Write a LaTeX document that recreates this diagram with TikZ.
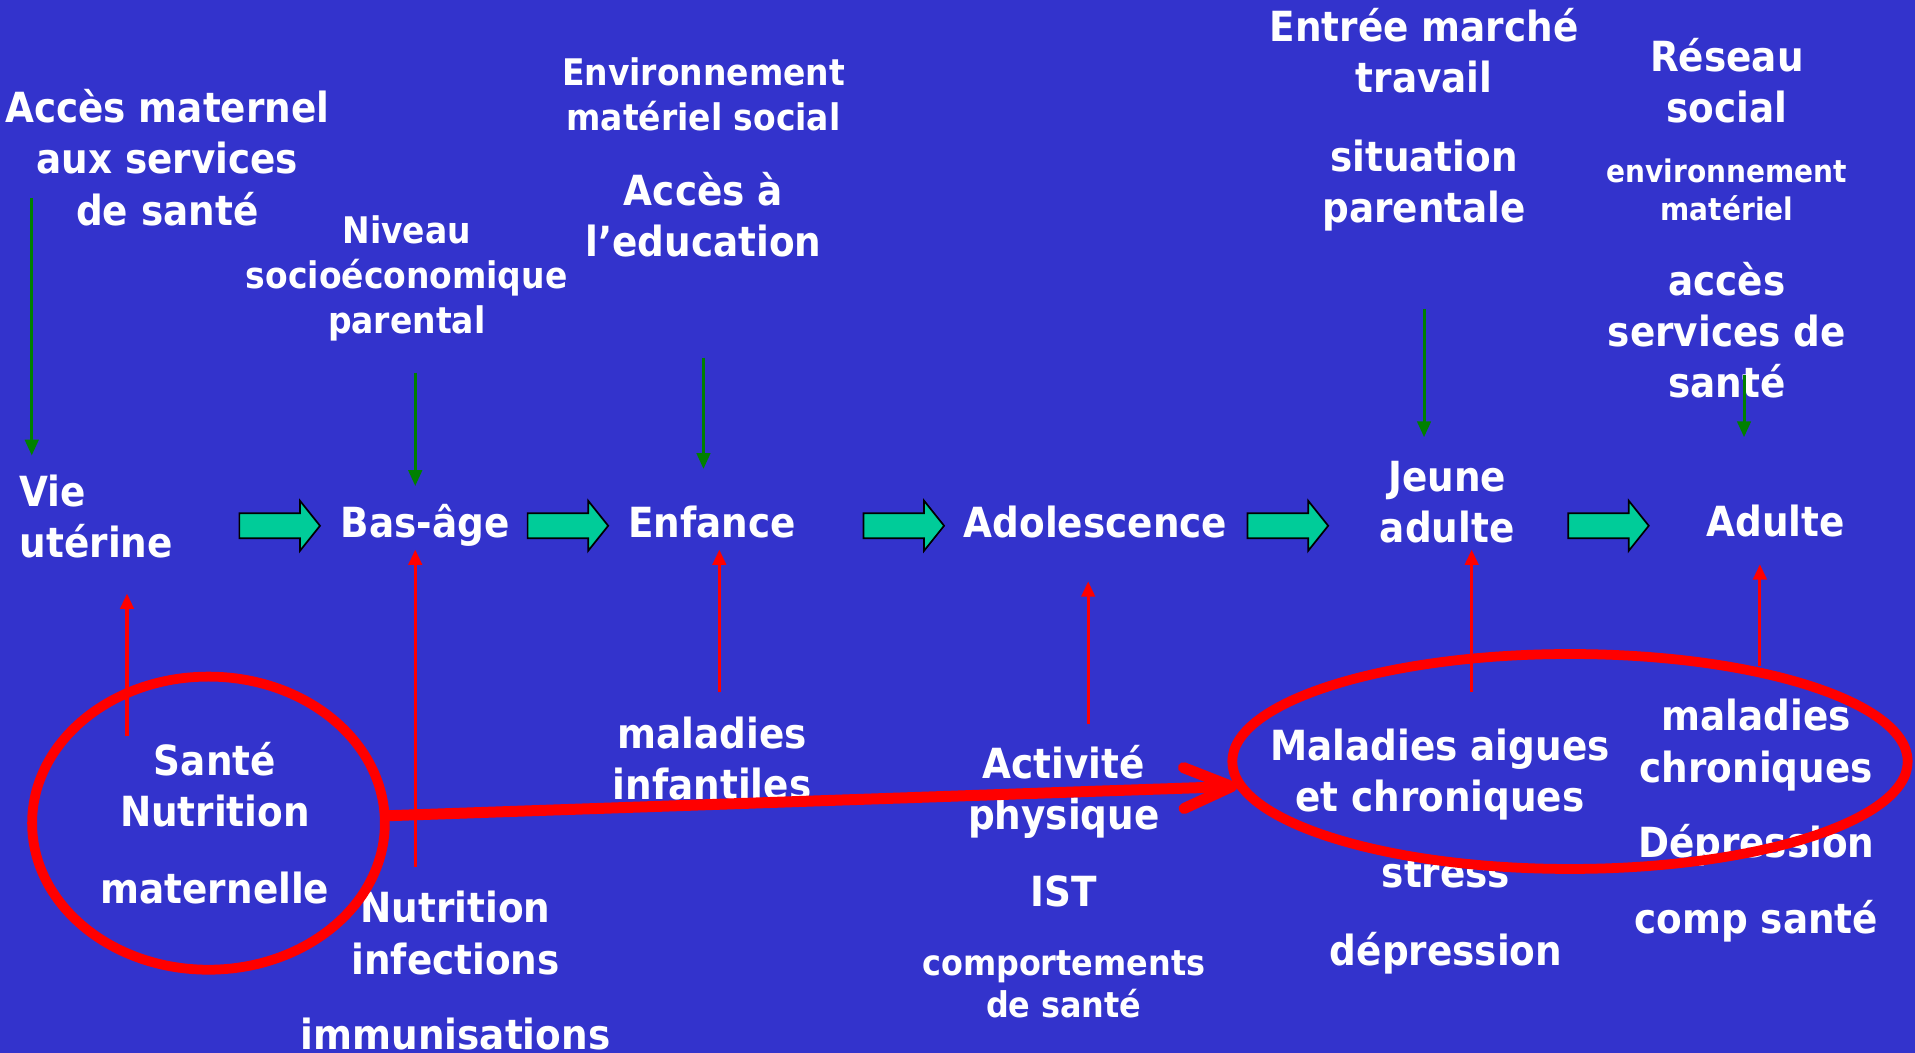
\documentclass[tikz,border=0pt]{standalone}
\usepackage{fontspec}
\newfontfamily\tfont{DejaVu Sans Condensed Bold}
\usetikzlibrary{arrows.meta,calc}
\definecolor{bgblue}{RGB}{51,51,204}
\definecolor{blockgreen}{RGB}{0,204,153}
\definecolor{dgreen}{RGB}{0,128,0}
\definecolor{rred}{RGB}{255,0,0}
\tikzset{
  lbl/.style={text=white, align=center, inner sep=0pt, font=\tfont\fontsize{34}{42}\selectfont},
  lblm/.style={lbl, font=\tfont\fontsize{30}{37}\selectfont},
  lblc/.style={lbl, font=\tfont\fontsize{29}{35}\selectfont},
  lbls/.style={lbl, font=\tfont\fontsize{25.5}{31}\selectfont},
  garrow/.style={draw=dgreen, line width=2.5pt, -{Triangle[length=13pt,width=11pt]}},
  rarrow/.style={draw=rred, line width=2.5pt, -{Triangle[length=12.5pt,width=11pt]}},
  ring/.style={draw=rred, line width=8pt},
  bigarrow/.style={draw=rred, line width=9pt, line cap=round, line join=round},
  blockarrow/.pic={\draw[line width=1.4pt, fill=blockgreen, line join=miter]
    (0,-10.25) -- (49.6,-10.25) -- (49.6,-20.5) -- (66,0) -- (49.6,20.5) -- (49.6,10.25) -- (0,10.25) -- cycle;}
}
\begin{document}
\begin{tikzpicture}[x=1pt,y=-1pt]
\fill[bgblue] (0,0) rectangle (1568,862);
\useasboundingbox (0,0) rectangle (1568,862);

% stages
\node[lbl, anchor=west, align=left] (vie) at (16,423) {Vie\\utérine};
\node[lbl, anchor=base] (basage) at (348,440) {Bas-âge};
\node[lbl, anchor=base] (enfance) at (583,440) {Enfance};
\node[lbl, anchor=base] (ado) at (897,440) {Adolescence};
\node[lbl] (jeune) at (1185,411) {Jeune\\adulte};
\node[lbl, anchor=base] (adulte) at (1454,439) {Adulte};

% block arrows between stages
\pic (ba1) at (196,430.5) {blockarrow};
\pic (ba2) at (432,430.5) {blockarrow};
\pic (ba3) at (707,430.5) {blockarrow};
\pic (ba4) at (1021.5,430.5) {blockarrow};
\pic (ba5) at (1284,430.5) {blockarrow};

% top determinants
\node[lbl] (acces) at (137,129) {Accès maternel\\aux services\\de santé};
\node[lblm] (niveau) at (333,228) {Niveau\\socioéconomique\\parental};
\node[lblm] (environ) at (576,77.5) {Environnement\\matériel social};
\node[lbl] (accesedu) at (576,176) {Accès à\\l’education};
\node[lbl] (entree) at (1166,98) {Entrée marché\\travail\\[22pt]situation\\parentale};
\node[lbl] (reseau) at (1414,66) {Réseau\\social};
\node[lbls] (envmat) at (1414,155.5) {environnement\\matériel};
\node[lbl] (accesserv) at (1414,270.5) {accès\\services de\\santé};

% bottom determinants
\node[lbl] (santenut) at (176,674) {Santé\\Nutrition\\[21pt]maternelle};
\node[lbl] (nutinf) at (373,795) {Nutrition\\infections\\[20pt]immunisations};
\node[lbl] (malinf) at (583,621) {maladies\\infantiles};
\node[lbl] (activite) at (871,676.5) {Activité\\physique\\[21pt]IST};
\node[lblc] (comport) at (871,806) {comportements\\de santé};
\node[lbl] (maladies) at (1179,634) {Maladies aigues\\et chroniques};
\node[lbl] (stress) at (1184,750) {stress\\[22pt]dépression};
\node[lbl] (malchron) at (1438,672) {maladies\\chroniques\\[20pt]Dépression\\[20pt]comp santé};

% green arrows
\coordinate (g1s) at (26,162);   \coordinate (g1e) at (26,373);
\coordinate (g2s) at (340,305);  \coordinate (g2e) at (340,398);
\coordinate (g3s) at (576,293);  \coordinate (g3e) at (576,384);
\coordinate (g4s) at (1166,253); \coordinate (g4e) at (1166,358);
\coordinate (g5s) at (1428,307); \coordinate (g5e) at (1428,358);
\draw[garrow] (g1s) -- (g1e);
\draw[garrow] (g2s) -- (g2e);
\draw[garrow] (g3s) -- (g3e);
\draw[garrow] (g4s) -- (g4e);
\draw[garrow] (g5s) -- (g5e);

% red arrows
\coordinate (r1s) at (104,603);  \coordinate (r1e) at (104,486);
\coordinate (r2s) at (340,710);  \coordinate (r2e) at (340,450);
\coordinate (r3s) at (589,567);  \coordinate (r3e) at (589,450);
\coordinate (r4s) at (891,593);  \coordinate (r4e) at (891,476);
\coordinate (r5s) at (1205,567); \coordinate (r5e) at (1205,450);
\coordinate (r6s) at (1441,545); \coordinate (r6e) at (1441,462);
\draw[rarrow] (r1s) -- (r1e);
\draw[rarrow] (r2s) -- (r2e);
\draw[rarrow] (r3s) -- (r3e);
\draw[rarrow] (r4s) -- (r4e);
\draw[rarrow] (r5s) -- (r5e);
\draw[rarrow] (r6s) -- (r6e);

% rings
\draw[ring] (170.7,674) ellipse [x radius=144.4pt, y radius=120pt];
\draw[ring] (1285.5,623.5) ellipse [x radius=276.5pt, y radius=88pt];
\coordinate (bigs) at (315,668);
\coordinate (bigt) at (1008.5,644);
\draw[bigarrow, line cap=butt] (bigs) -- (bigt);
\draw[bigarrow] ($(bigt)+(-39.5,-15.5)$) -- (bigt) -- ($(bigt)+(-39,18)$);
\end{tikzpicture}
\end{document}
